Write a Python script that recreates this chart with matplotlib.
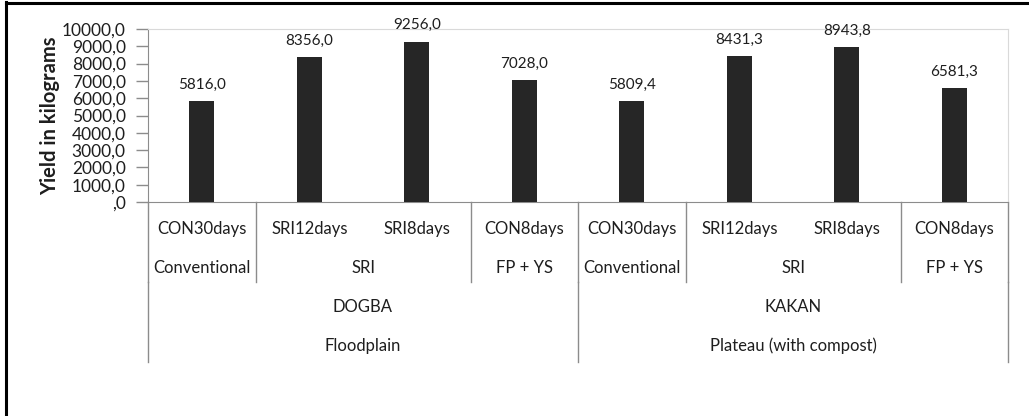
import matplotlib
matplotlib.use("Agg")
import matplotlib.pyplot as plt
from matplotlib.transforms import blended_transform_factory
from matplotlib.lines import Line2D

# data
treatments = ["CON30days", "SRI12days", "SRI8days", "CON8days",
              "CON30days", "SRI12days", "SRI8days", "CON8days"]
yields = [5816.0, 8356.0, 9256.0, 7028.0, 5809.4, 8431.3, 8943.8, 6581.3]
systems = [("Conventional", 0, 0), ("SRI", 1, 2), ("FP + YS", 3, 3),
           ("Conventional", 4, 4), ("SRI", 5, 6), ("FP + YS", 7, 7)]
sites = [("DOGBA", 0, 3), ("KAKAN", 4, 7)]
lands = [("Floodplain", 0, 3), ("Plateau (with compost)", 4, 7)]
yticks = [0, 1000, 2000, 3000, 4000, 5000, 6000, 7000, 8000, 9000, 10000]

plt.rcParams['font.family'] = ['Lato', 'DejaVu Sans']
W, H = 1029, 416
fig = plt.figure(figsize=(W / 100, H / 100), dpi=100)
ax = fig.add_axes([148 / W, 1 - 202 / H, (1008 - 148) / W, 173 / H])

txt = '#1e1e1e'
grid = '#8c8c8c'
x = list(range(len(yields)))
ax.bar(x, yields, width=0.23, color='#262626', zorder=3)
for xi, v in zip(x, yields):
    ax.annotate(f"{v:.1f}".replace('.', ','), (xi, v), xytext=(0, 7),
                textcoords='offset points', ha='center', va='bottom',
                fontsize=11, color=txt)

ax.set_xlim(-0.5, len(yields) - 0.5)
ax.set_ylim(0, 10000)
ax.set_yticks(yticks)
ax.set_yticklabels([",0" if t == 0 else f"{t:.1f}".replace('.', ',') for t in yticks])
ax.tick_params(axis='y', length=9, width=1, color=grid, labelsize=12.5,
               labelcolor=txt, pad=7)
ax.set_xticks([])
for s in ['top', 'right']:
    ax.spines[s].set_color('#d9d9d9')
for s in ['left', 'bottom']:
    ax.spines[s].set_color(grid)
ax.set_ylabel("Yield in kilograms", fontsize=14.5, fontweight='bold', color=txt,
              labelpad=1)

# multi-level category axis
tr = blended_transform_factory(ax.transData, fig.transFigure)
def fy(px):
    return 1 - px / H

for xi, name in zip(x, treatments):
    ax.text(xi, fy(229), name, transform=tr, ha='center', va='center',
            fontsize=12, color=txt)
for name, a, b in systems:
    ax.text((a + b) / 2, fy(268), name, transform=tr, ha='center', va='center',
            fontsize=12, color=txt)
for name, a, b in sites:
    ax.text((a + b) / 2, fy(307), name, transform=tr, ha='center', va='center',
            fontsize=12, color=txt)
for name, a, b in lands:
    ax.text((a + b) / 2, fy(346), name, transform=tr, ha='center', va='center',
            fontsize=12, color=txt)

edges2 = sorted({a - 0.5 for _, a, _ in systems} | {b + 0.5 for _, _, b in systems})
edges3 = sorted({a - 0.5 for _, a, _ in sites} | {b + 0.5 for _, _, b in sites})
for e in edges2:
    ax.add_line(Line2D([e, e], [fy(202), fy(282)], transform=tr, color=grid,
                       lw=1, clip_on=False))
for e in edges3:
    ax.add_line(Line2D([e, e], [fy(282), fy(362)], transform=tr, color=grid,
                       lw=1, clip_on=False))

# outer frame of the picture (top and left)
fig.add_artist(Line2D([5.5 / W, 1], [1 - 3 / H, 1 - 3 / H], color='black', lw=2.2))
fig.add_artist(Line2D([6 / W, 6 / W], [0, 1 - 2 / H], color='black', lw=2.2))

fig.savefig("out.png", dpi=100)
